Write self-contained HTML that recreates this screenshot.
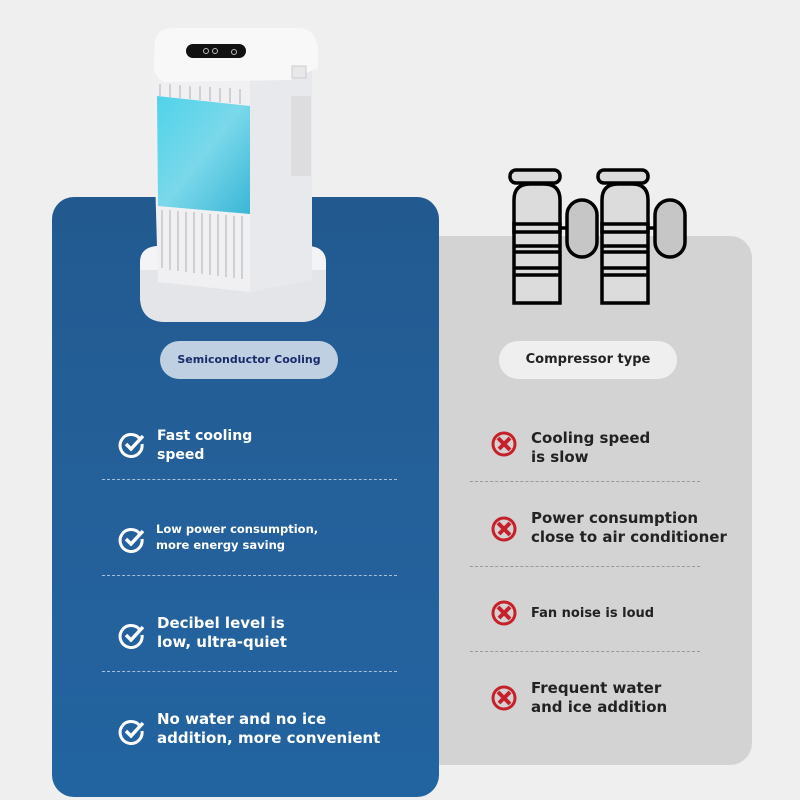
<!DOCTYPE html>
<html><head><meta charset="utf-8"><style>
*{margin:0;padding:0;box-sizing:border-box}
body{width:800px;height:800px;background:#efefef;position:relative;overflow:hidden;font-family:"DejaVu Sans","Liberation Sans",sans-serif}
.gray{position:absolute;left:420px;top:236px;width:332px;height:529px;background:#d3d3d3;border-radius:22px}
.blue{position:absolute;left:52px;top:197px;width:387px;height:600px;border-radius:22px;background:linear-gradient(180deg,#225a8f 0%,#24609a 50%,#2264a0 100%)}
.pill{position:absolute;border-radius:20px;text-align:center;font-weight:bold;font-size:12px;line-height:38px}
.t{position:absolute;font-weight:bold;font-size:15px;line-height:19px}
.w{color:#fff}.k{color:#222}
.hr{position:absolute;border-top:1px dashed}
.ic{position:absolute}
</style></head><body>
<div class="gray"></div>
<div class="blue"></div>

<svg style="position:absolute;left:0;top:0" width="800" height="800">
 <path d="M140 262 Q140 248 156 246 L310 246 Q326 248 326 262 L326 296 Q326 322 300 322 L166 322 Q140 322 140 296Z" fill="#f4f4f6"/>
 <path d="M140 270 L326 270 L326 296 Q326 322 300 322 L166 322 Q140 322 140 296Z" fill="#e4e5e8"/>
 <path d="M152 70 L250 78 L250 292 L158 282 Z" fill="#f0f0f2"/>
 <path d="M250 78 L312 68 L312 280 L250 292 Z" fill="#e8e9ec"/>
 <path d="M155 40 Q158 28 175 28 L300 28 Q316 30 318 48 L318 68 L290 80 L165 82 Q152 78 154 60Z" fill="#f8f8f8"/>
 <rect x="186" y="44" width="60" height="14" rx="7" fill="#111"/>
 <g fill="none" stroke="#bbb" stroke-width="1"><circle cx="206" cy="51" r="2.5"/><circle cx="215" cy="51" r="2.5"/><circle cx="234" cy="52" r="2.5"/></g>
 <rect x="292" y="66" width="14" height="12" fill="#e8e8ea" stroke="#ccc"/>
 <defs><linearGradient id="wg" x1="0" y1="0" x2="1" y2="1"><stop offset="0" stop-color="#4fd3ea"/><stop offset=".5" stop-color="#7ad8ea"/><stop offset="1" stop-color="#3ab6d6"/></linearGradient></defs>
 <path d="M157 96 L250 106 L250 214 L158 206 Z" fill="url(#wg)"/>
 <g stroke="#c4c6ca" stroke-width="1.5">
  <line x1="160" y1="84" x2="160" y2="96"/><line x1="170" y1="84" x2="170" y2="97"/><line x1="180" y1="85" x2="180" y2="98"/><line x1="190" y1="86" x2="190" y2="99"/><line x1="200" y1="86" x2="200" y2="100"/><line x1="210" y1="87" x2="210" y2="101"/><line x1="220" y1="88" x2="220" y2="102"/><line x1="230" y1="88" x2="230" y2="103"/><line x1="240" y1="89" x2="240" y2="104"/>
  <line x1="162" y1="210" x2="162" y2="268"/><line x1="170" y1="210" x2="170" y2="270"/><line x1="178" y1="211" x2="178" y2="271"/><line x1="186" y1="212" x2="186" y2="272"/><line x1="194" y1="212" x2="194" y2="273"/><line x1="202" y1="213" x2="202" y2="274"/><line x1="210" y1="214" x2="210" y2="275"/><line x1="218" y1="214" x2="218" y2="276"/><line x1="226" y1="215" x2="226" y2="277"/><line x1="234" y1="216" x2="234" y2="278"/><line x1="242" y1="216" x2="242" y2="279"/>
 </g>
 <rect x="291" y="96" width="20" height="80" fill="#d9dadd" opacity=".8"/>
 <g fill="#dcdcdc" stroke="#000" stroke-width="3.5">
  <g id="c1">
   <rect x="510" y="170" width="50" height="13" rx="6"/>
   <path d="M514 303 L514 200 Q514 184 530 184 L544 184 Q560 184 560 200 L560 303 Z"/>
   <rect x="567" y="200" width="30" height="57" rx="15" fill="#c6c6c6"/>
   <line x1="560" y1="228" x2="567" y2="228"/>
   <rect x="514" y="224" width="46" height="8" fill="none"/>
   <line x1="514" y1="246" x2="560" y2="246"/><line x1="514" y1="252" x2="560" y2="252"/>
   <line x1="514" y1="268" x2="560" y2="268"/><line x1="514" y1="275" x2="560" y2="275"/>
  </g>
  <use href="#c1" x="88"/>
 </g>
</svg>

<div class="pill" style="left:160px;top:341px;width:178px;background:#bfd0e3;color:#1a2a6a;font-size:11px">Semiconductor Cooling</div>
<div class="pill" style="left:499px;top:341px;width:178px;background:#efefef;color:#222;font-size:13px">Compressor type</div>

<svg class="ic" style="left:118px;top:430px" width="28" height="28"><path d="M22 9 A11 11 0 1 0 24 14" fill="none" stroke="#fff" stroke-width="3"/><path d="M8 14 L13 19 L25 6" fill="none" stroke="#fff" stroke-width="3.5"/></svg>
<svg class="ic" style="left:118px;top:525px" width="28" height="28"><path d="M22 9 A11 11 0 1 0 24 14" fill="none" stroke="#fff" stroke-width="3"/><path d="M8 14 L13 19 L25 6" fill="none" stroke="#fff" stroke-width="3.5"/></svg>
<svg class="ic" style="left:118px;top:621px" width="28" height="28"><path d="M22 9 A11 11 0 1 0 24 14" fill="none" stroke="#fff" stroke-width="3"/><path d="M8 14 L13 19 L25 6" fill="none" stroke="#fff" stroke-width="3.5"/></svg>
<svg class="ic" style="left:118px;top:717px" width="28" height="28"><path d="M22 9 A11 11 0 1 0 24 14" fill="none" stroke="#fff" stroke-width="3"/><path d="M8 14 L13 19 L25 6" fill="none" stroke="#fff" stroke-width="3.5"/></svg>

<div class="t w" style="left:157px;top:427px;font-size:14px">Fast cooling<br>speed</div>
<div class="t w" style="left:156px;top:521px;font-size:11.5px;line-height:16px">Low power consumption,<br>more energy saving</div>
<div class="t w" style="left:157px;top:614px">Decibel level is<br>low, ultra-quiet</div>
<div class="t w" style="left:157px;top:710px">No water and no ice<br>addition, more convenient</div>

<div class="hr" style="left:102px;top:479px;width:295px;border-color:#a9c0d8"></div>
<div class="hr" style="left:102px;top:575px;width:295px;border-color:#a9c0d8"></div>
<div class="hr" style="left:102px;top:671px;width:295px;border-color:#a9c0d8"></div>

<svg class="ic" style="left:490px;top:430px" width="28" height="28"><circle cx="14" cy="14" r="11" fill="none" stroke="#c8202a" stroke-width="3"/><path d="M8 8 L20 20 M20 8 L9 19" stroke="#c8202a" stroke-width="4"/></svg>
<svg class="ic" style="left:490px;top:515px" width="28" height="28"><circle cx="14" cy="14" r="11" fill="none" stroke="#c8202a" stroke-width="3"/><path d="M8 8 L20 20 M20 8 L9 19" stroke="#c8202a" stroke-width="4"/></svg>
<svg class="ic" style="left:490px;top:599px" width="28" height="28"><circle cx="14" cy="14" r="11" fill="none" stroke="#c8202a" stroke-width="3"/><path d="M8 8 L20 20 M20 8 L9 19" stroke="#c8202a" stroke-width="4"/></svg>
<svg class="ic" style="left:490px;top:684px" width="28" height="28"><circle cx="14" cy="14" r="11" fill="none" stroke="#c8202a" stroke-width="3"/><path d="M8 8 L20 20 M20 8 L9 19" stroke="#c8202a" stroke-width="4"/></svg>

<div class="t k" style="left:531px;top:429px">Cooling speed<br>is slow</div>
<div class="t k" style="left:531px;top:509px">Power consumption<br>close to air conditioner</div>
<div class="t k" style="left:531px;top:604px;font-size:13px">Fan noise is loud</div>
<div class="t k" style="left:531px;top:679px">Frequent water<br>and ice addition</div>

<div class="hr" style="left:470px;top:481px;width:230px;border-color:#999"></div>
<div class="hr" style="left:470px;top:566px;width:230px;border-color:#999"></div>
<div class="hr" style="left:470px;top:651px;width:230px;border-color:#999"></div>
</body></html>
